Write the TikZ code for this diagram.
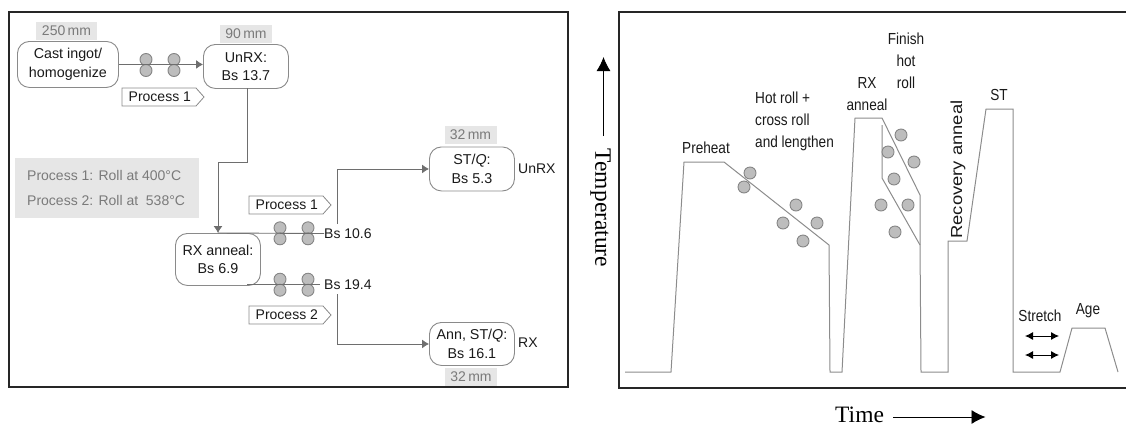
\documentclass[tikz,border=0pt]{standalone}
\usepackage{fontspec}
\setmainfont{Liberation Sans}
\newfontfamily\narrowf[FakeStretch=0.85]{Liberation Sans}
\newfontfamily\wideof[FakeStretch=1.15]{Liberation Sans}
\newfontfamily\serf{Liberation Serif}
\usetikzlibrary{arrows.meta}
\definecolor{frameC}{HTML}{262626}
\definecolor{lineC}{HTML}{6E6E6E}
\definecolor{curveC}{HTML}{8C8C8C}
\definecolor{boxC}{HTML}{8A8A8A}
\definecolor{greyF}{HTML}{E6E6E6}
\definecolor{greyT}{HTML}{7A7A7A}
\definecolor{rollF}{HTML}{BDBDBD}
\definecolor{rollD}{HTML}{858585}
\definecolor{inkC}{HTML}{1A1A1A}
\tikzset{
 x=1pt,y=-1pt,
 frameline/.style={draw=frameC,line width=2.4pt},
 flowbox/.style={draw=boxC,line width=0.9pt,rounded corners=12pt,fill=white,align=center,font=\fontsize{14.3}{18.5}\selectfont,text=inkC,inner sep=0pt,anchor=north west},
 dimbox/.style={fill=greyF,text=greyT,font=\fontsize{14}{16}\selectfont,inner sep=0pt,minimum height=18pt,minimum width=52pt},
 lab/.style={font=\fontsize{14}{16}\selectfont,text=inkC,inner sep=0pt},
 conn/.style={draw=lineC,line width=0.9pt},
 arr/.style={conn,-{Latex[length=7pt,width=9pt]}},
 taglab/.style={font=\fontsize{14}{16}\selectfont,text=inkC,inner sep=0pt,anchor=west},
 tagline/.style={draw=boxC,line width=0.8pt,fill=white},
 roller/.style={circle,draw=rollD,fill=rollF,line width=0.9pt,minimum size=12pt,inner sep=0pt},
 curve/.style={draw=curveC,line width=1pt,line join=miter},
 rlab/.style={font=\narrowf\fontsize{16}{22}\selectfont,text=inkC,inner sep=0pt,align=center},
 serlab/.style={font=\serf\fontsize{23.5}{25}\selectfont,text=black,inner sep=0pt},
 blackarr/.style={draw=black,line width=0.9pt,-{Latex[length=14pt,width=14pt]}},
 dblarr/.style={draw=black,line width=0.9pt,{Latex[length=8pt,width=8pt]}-{Latex[length=8pt,width=8pt]}},
}
\newcommand{\tagshape}[4]{% name, x, y, text
 \draw[tagline] (#2,#3) -- ++(74,0) -- ++(8,9) -- ++(-8,9) -- ++(-74,0) -- cycle;
 \node[taglab] (#1) at (#2+6.5,#3+9) {#4};
}
\newcommand{\rollpair}[3]{% name, x, y
 \node[roller] (#1a) at (#2,#3-5.5) {};
 \node[roller] (#1b) at (#2,#3+5.5) {};
}
\begin{document}
\begin{tikzpicture}
\useasboundingbox (0,0) rectangle (1126,424);
% left panel
\draw[frameline] (9,12) rectangle (568,387);
\node[dimbox,minimum width=61pt] (d250) at (66.5,30.5) {250\,mm};
\node[dimbox] (d90) at (246,34) {90\,mm};
\node[flowbox,minimum width=101pt,minimum height=46pt] (cast) at (17,41) {Cast ingot/\\homogenize};
\node[flowbox,minimum width=85pt,minimum height=44pt] (unrx) at (203,44) {UnRX:\\Bs 13.7};
\rollpair{ra}{146}{65}
\rollpair{rb}{174}{65}
\draw[arr] (cast.east) -- (cast.east -| unrx.west);
\tagshape{tp1}{122}{88}{Process 1}
\fill[greyF] (15,158) rectangle (199,218);
\node[lab,anchor=west,text=greyT] (p1t) at (27,175) {Process 1: Roll at 400°C};
\node[lab,anchor=west,text=greyT] (p2t) at (27,200) {Process 2: Roll at\ \ 538°C};
\node[flowbox,minimum width=85pt,minimum height=52pt] (rx) at (175,233) {RX anneal:\\Bs 6.9};
\coordinate (unb) at (247,88);
\coordinate (rxt) at (218,233);
\draw[arr] (unb) |- (218,162) -- (rxt);
\node[lab,anchor=west] (bs1) at (324,233.5) {Bs 10.6};
\node[lab,anchor=west] (bs2) at (324,285) {Bs 19.4};
\rollpair{rc}{280}{233.3}
\rollpair{rd}{308}{233.3}
\rollpair{re}{280}{284.7}
\rollpair{rf}{308}{284.7}
\draw[conn] (rxt) -- (bs1.west);
\draw[conn] (247,284.5) -- (320,284.5);
\tagshape{tp2}{249}{196}{Process 1}
\tagshape{tp3}{249}{306}{Process 2}
\node[dimbox] (d32a) at (470.5,134.5) {32\,mm};
\node[flowbox,minimum width=85pt,minimum height=44pt] (st) at (429,146.5) {ST/\textit{Q}:\\Bs 5.3};
\node[flowbox,minimum width=85pt,minimum height=43pt] (ann) at (429,322) {Ann, ST/\textit{Q}:\\Bs 16.1};
\node[dimbox] (d32b) at (471,377) {32\,mm};
\coordinate (up1) at (337,224);
\coordinate (dn1) at (337,294);
\draw[arr] (up1) |- (st.west);
\draw[arr] (dn1) |- (ann.west);
\node[lab,anchor=west] (unrxl) at (518,169) {UnRX};
\node[lab,anchor=west] (rxl) at (518,343) {RX};
% right panel
\draw[frameline] (1126,12) -- (619,12) -- (619,388) -- (1126,388);
\draw[curve] (625,372) -- (671,372) -- (684,162) -- (724,162) -- (829,245) -- (830,372) -- (842,372) -- (855,118) -- (882,118) -- (920,195) -- (920,245) -- (921,372) -- (948,372) -- (948,241) -- (967,241) -- (986,109) -- (1013,109) -- (1013,372) -- (1060,372) -- (1072,328) -- (1105,328) -- (1118,372);
\draw[curve] (882,125) -- (882,178) -- (920,245);
\foreach \n/\x/\y in {a/750/173,b/744/187,c/796/205,d/783/223,e/817/223,f/803/241,g/901/135,h/888/152,i/914/162,j/894/179,k/881/205,l/908/205,m/895/232}
  \node[roller] (c\n) at (\x,\y) {};
\node[rlab] (preheat) at (706,148) {Preheat};
\node[rlab,align=left,anchor=west] (hot) at (755,121) {Hot roll +\\cross roll\\and lengthen};
\node[rlab] (rxa) at (867,94) {RX\\anneal};
\node[rlab] (fin) at (906,61) {Finish\\hot\\roll};
\node[rlab] (stl) at (999,95) {ST};
\node[font=\wideof\fontsize{16}{18}\selectfont,text=inkC,inner sep=0pt,rotate=90] (rec) at (958,169.5) {Recovery anneal};
\node[rlab] (stretch) at (1040,316) {Stretch};
\node[rlab] (age) at (1088,311) {Age};
\coordinate (s1a) at (1025,336); \coordinate (s1b) at (1059,336);
\coordinate (s2a) at (1025,355); \coordinate (s2b) at (1059,355);
\draw[dblarr] (s1a) -- (s1b);
\draw[dblarr] (s2a) -- (s2b);
% axes
\node[serlab,rotate=-90] (temp) at (600.5,208) {Temperature};
\coordinate (ta) at (603.5,136); \coordinate (tb) at (603.5,57);
\draw[blackarr] (ta) -- (tb);
\node[serlab,anchor=west] (time) at (835,414.5) {Time};
\coordinate (tia) at (893,417); \coordinate (tib) at (985.5,417);
\draw[blackarr] (tia) -- (tib);
\end{tikzpicture}
\end{document}
